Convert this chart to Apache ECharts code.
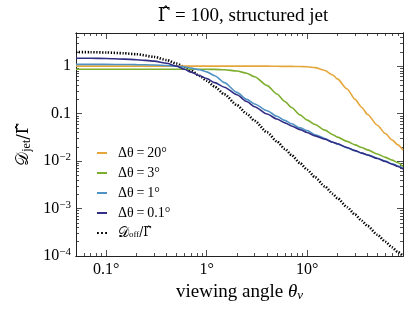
<!DOCTYPE html>
<html>
<head>
<meta charset="utf-8">
<script src="https://cdn.jsdelivr.net/npm/echarts@6/dist/echarts.min.js"></script>
<style>html,body{margin:0;padding:0;background:#fff}#c{width:415px;height:312px}</style>
</head>
<body>
<div id="c"></div>
<script>
// viewing angles (degrees)
const angles = [0.05,0.07,0.1,0.15,0.2,0.3,0.4,0.5,0.6,0.7,0.85,1,1.2,1.5,2,2.5,3,4,5,6,7,8.5,10,12,15,18,20,25,30,35,40,50,60,70,80,90];
// D_jet / Gamma-hat for each structured-jet width
const dTheta20 = [1.0,1.0,1.0,1.0,1.0,1.0,1.0,1.0,1.0,1.0,1.0,1.0,1.0,1.0,1.0,1.0,1.0,1.0,0.995,0.99,0.99,0.985,0.97,0.93,0.81,0.65,0.54,0.33,0.20,0.135,0.096,0.057,0.038,0.028,0.022,0.017];
const dTheta3  = [0.86,0.86,0.86,0.86,0.86,0.86,0.86,0.86,0.86,0.86,0.86,0.86,0.855,0.84,0.79,0.71,0.60,0.39,0.26,0.18,0.135,0.094,0.073,0.059,0.045,0.036,0.032,0.026,0.022,0.0193,0.0172,0.0141,0.0120,0.0105,0.0092,0.0077];
const dTheta1  = [1.09,1.09,1.09,1.085,1.08,1.06,1.03,1.0,0.96,0.91,0.84,0.76,0.63,0.45,0.28,0.20,0.16,0.115,0.088,0.072,0.061,0.050,0.044,0.036,0.030,0.025,0.023,0.019,0.0165,0.0148,0.0135,0.0115,0.0100,0.0088,0.0079,0.0071];
const dTheta01 = [1.47,1.465,1.45,1.41,1.37,1.28,1.15,1.0,0.86,0.75,0.63,0.55,0.45,0.36,0.25,0.18,0.14,0.098,0.077,0.064,0.055,0.046,0.040,0.034,0.029,0.025,0.0232,0.0193,0.0166,0.0147,0.0134,0.0113,0.0098,0.0086,0.0077,0.0068];
const dOff     = [1.985,1.971,1.941,1.872,1.783,1.570,1.345,1.135,0.954,0.802,0.625,0.494,0.371,0.2547,0.1517,0.0998,0.0704,0.0402,0.02594,0.01809,0.01333,0.00906,0.00656,0.004566,0.00293,0.002041,0.001657,0.001067,0.000746,0.000553,0.000427,0.000280,0.000200,0.000152,0.000121,0.000100];

const seriesNames = ['dt20','dt3','dt1','dt01','off'];
const legendLabels = ['{t|Δθ\u2009=\u200920°}','{t|Δθ\u2009=\u20093°}','{t|Δθ\u2009=\u20091°}','{t|Δθ\u2009=\u20090.1°}','{t|𝒟}{sub|off}{h|/Γ̂}'];
const seriesColors = ['#e5a63c','#7eae2e','#4f93c4','#322e86','#000000'];

const xMajor = [0.1,1,10];
const xMajorLabels = ['0.1°','1°','10°'];
const xMinor = [0.06,0.07,0.08,0.09,0.2,0.3,0.4,0.5,0.6,0.7,0.8,0.9,2,3,4,5,6,7,8,9,20,30,40,50,60,70,80];
const yMajor = [0.0001,0.001,0.01,0.1,1];
const yMajorLabels = ['{b|10}{s|−4}','{b|10}{s|−3}','{b|10}{s|−2}','{b|0.1}','{b|1}'];
const yMinor = [0.0002,0.0003,0.0004,0.0005,0.0006,0.0007,0.0008,0.0009,0.002,0.003,0.004,0.005,0.006,0.007,0.008,0.009,0.02,0.03,0.04,0.05,0.06,0.07,0.08,0.09,0.2,0.3,0.4,0.5,0.6,0.7,0.8,0.9,2,3,4];

const FONT = 'Liberation Serif';
const HATFONT = 'DejaVu Serif';
function findLabel(v, vals, labels){
  for (let i=0;i<vals.length;i++){ if (Math.abs(Math.log10(v/vals[i]))<1e-6) return labels[i]; }
  return '';
}
function mkX(pos, vals, len, labels){
  return {type:'log', logBase:10, min:0.05, max:90, position:pos,
    axisLine:{show:true, lineStyle:{color:'#222', width:1}},
    axisTick:{show:true, inside:true, length:len, customValues:vals, lineStyle:{color:'#222', width:0.8}},
    axisLabel: labels ? {show:true, customValues:vals, formatter:v=>findLabel(v,xMajor,xMajorLabels), fontFamily:FONT, fontSize:16, color:'#000', margin:6} : {show:false},
    splitLine:{show:false}, minorTick:{show:false}};
}
function mkY(pos, vals, len, labels){
  return {type:'log', logBase:10, min:0.0001, max:5, position:pos,
    axisLine:{show:true, lineStyle:{color:'#222', width:1}},
    axisTick:{show:true, inside:true, length:len, customValues:vals, lineStyle:{color:'#222', width:0.8}},
    axisLabel: labels ? {show:true, customValues:vals, formatter:v=>findLabel(v,yMajor,yMajorLabels), margin:5,
      rich:{b:{fontFamily:FONT, fontSize:16, color:'#000'}, s:{fontFamily:FONT, fontSize:11, color:'#000', verticalAlign:'top', padding:[0,0,7,0]}}} : {show:false},
    splitLine:{show:false}, minorTick:{show:false}};
}
const xs = [mkX('bottom',xMajor,6,true), mkX('bottom',xMinor,3,false), mkX('top',xMajor,6,false), mkX('top',xMinor,3,false)];
xs[0].name = '{t|viewing angle }{i|θ}{sub|v}';
xs[0].nameLocation = 'middle';
xs[0].nameGap = 14;
xs[0].nameTextStyle = {rich:{t:{fontFamily:FONT,fontSize:19,color:'#000'}, i:{fontFamily:FONT,fontSize:19,fontStyle:'italic',color:'#000'}, sub:{fontFamily:FONT,fontSize:13,fontStyle:'italic',color:'#000',padding:[7,0,0,0]}}};
const ys = [mkY('left',yMajor,6,true), mkY('left',yMinor,3,false), mkY('right',yMajor,6,false), mkY('right',yMinor,3,false)];
ys[0].name = '{t|𝒟}{sub|jet}{h|/Γ̂}';
ys[0].nameLocation = 'middle';
ys[0].nameGap = 43;
ys[0].nameRotate = 90;
ys[0].nameTextStyle = {rich:{t:{fontFamily:FONT,fontSize:17,color:'#000'}, h:{fontFamily:HATFONT,fontSize:16,color:'#000'}, sub:{fontFamily:FONT,fontSize:12,color:'#000',padding:[6,0,0,0]}}};

const allData = [dTheta20, dTheta3, dTheta1, dTheta01, dOff];
const series = allData.map((arr,i)=>({
  name: seriesNames[i], type:'line', xAxisIndex:0, yAxisIndex:0,
  data: angles.map((a,j)=>[a, arr[j]]),
  symbol:'none', smooth:0.25, smoothMonotone:'x', silent:true,
  lineStyle: i===4 ? {color:'#000', width:2.6, type:[1.3,1.6]} : {color:seriesColors[i], width:1.6},
  itemStyle:{color:seriesColors[i]},
  z: i===4 ? 1 : 2+i
}));

const dottedIcon = 'path://M0,0h2v2h-2z M4.5,0h2v2h-2z M9,0h2v2h-2z';
const chart = echarts.init(document.getElementById('c'), null, {renderer:'canvas'});
chart.setOption({
  animation:false,
  backgroundColor:'#fff',
  title:{text:'{h|Γ̂}{t| = 100, structured jet}', left:238, top:2, textAlign:'center',
    textStyle:{fontWeight:'normal', rich:{t:{fontFamily:FONT, fontSize:19, fontWeight:'normal', color:'#000'}, h:{fontFamily:HATFONT, fontSize:18, fontWeight:'normal', color:'#000'}}}},
  grid:{left:76, right:12, top:33, bottom:56, containLabel:false},
  legend:{orient:'vertical', left:97, top:146, padding:0, itemGap:6, itemWidth:10, itemHeight:2,
    data: seriesNames.map((n,i)=>({name:n, icon: i===4 ? dottedIcon : 'rect'})),
    formatter: n => legendLabels[seriesNames.indexOf(n)],
    textStyle:{padding:[0,0,0,6], rich:{t:{fontFamily:FONT,fontSize:14,lineHeight:15,color:'#000'}, h:{fontFamily:HATFONT,fontSize:12,lineHeight:15,color:'#000'}, sub:{fontFamily:FONT,fontSize:9,lineHeight:15,color:'#000',padding:[4,0,0,0]}}},
    selectedMode:false},
  xAxis: xs,
  yAxis: ys,
  series: series
});
</script>
</body>
</html>
